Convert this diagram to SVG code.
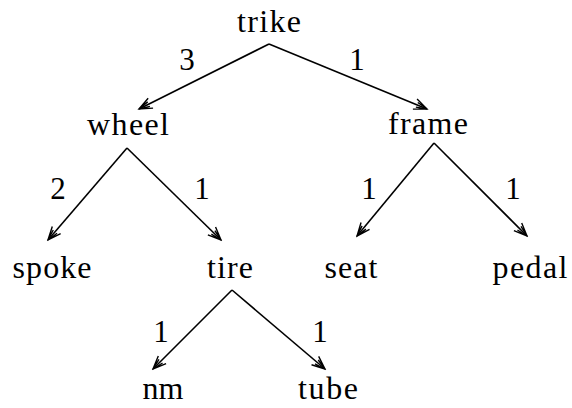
<svg xmlns="http://www.w3.org/2000/svg" width="572" height="408" viewBox="0 0 572 408">
<defs>
<style>
.n{font-family:"Liberation Serif","Times New Roman",serif;font-size:32px;fill:#000;text-anchor:middle}
.w{font-family:"Liberation Serif","Times New Roman",serif;font-size:31px;fill:#000;text-anchor:middle}
.e{stroke:#000;stroke-width:1.6;fill:none;marker-end:url(#ah)}
</style>
<marker id="ah" viewBox="-14 -7 16 14" refX="0" refY="0" markerWidth="16" markerHeight="14" markerUnits="userSpaceOnUse" orient="auto">
<path d="M-13,-5.5 L0,0 L-13,5.5 M-11,-2.5 L0,0 M-11,2.5 L0,0" fill="none" stroke="#000" stroke-width="1.4"/>
</marker>
</defs>
<rect width="572" height="408" fill="#fff"/>
<g id="connectors">
<path class="e" d="M269,44 L139,109"/>
<path class="e" d="M269,44 L427,109"/>
<path class="e" d="M127,148 L48,240"/>
<path class="e" d="M127,148 L221,240"/>
<path class="e" d="M434,143 L357,236"/>
<path class="e" d="M434,143 L527,236"/>
<path class="e" d="M232,290 L153,369"/>
<path class="e" d="M232,290 L325,369"/>
<text class="w" x="187" y="70">3</text>
<text class="w" x="357" y="70">1</text>
<text class="w" x="58" y="199">2</text>
<text class="w" x="202" y="199">1</text>
<text class="w" x="369" y="199">1</text>
<text class="w" x="513" y="199">1</text>
<text class="w" x="161" y="342">1</text>
<text class="w" x="320" y="342">1</text>
</g>
<g id="trike"><text class="n" x="269" y="32" textLength="64" lengthAdjust="spacing">trike</text></g>
<g id="wheel"><text class="n" x="128" y="135" textLength="82" lengthAdjust="spacing">wheel</text></g>
<g id="frame"><text class="n" x="428" y="134" textLength="80" lengthAdjust="spacing">frame</text></g>
<g id="spoke"><text class="n" x="52" y="278" textLength="79" lengthAdjust="spacing">spoke</text></g>
<g id="tire"><text class="n" x="230" y="278" textLength="46" lengthAdjust="spacing">tire</text></g>
<g id="seat"><text class="n" x="351" y="278" textLength="53" lengthAdjust="spacing">seat</text></g>
<g id="pedal"><text class="n" x="530" y="278" textLength="75" lengthAdjust="spacing">pedal</text></g>
<g id="nm"><text class="n" x="163" y="399" textLength="41" lengthAdjust="spacing">nm</text></g>
<g id="tube"><text class="n" x="328" y="399" textLength="60" lengthAdjust="spacing">tube</text></g>
</svg>
